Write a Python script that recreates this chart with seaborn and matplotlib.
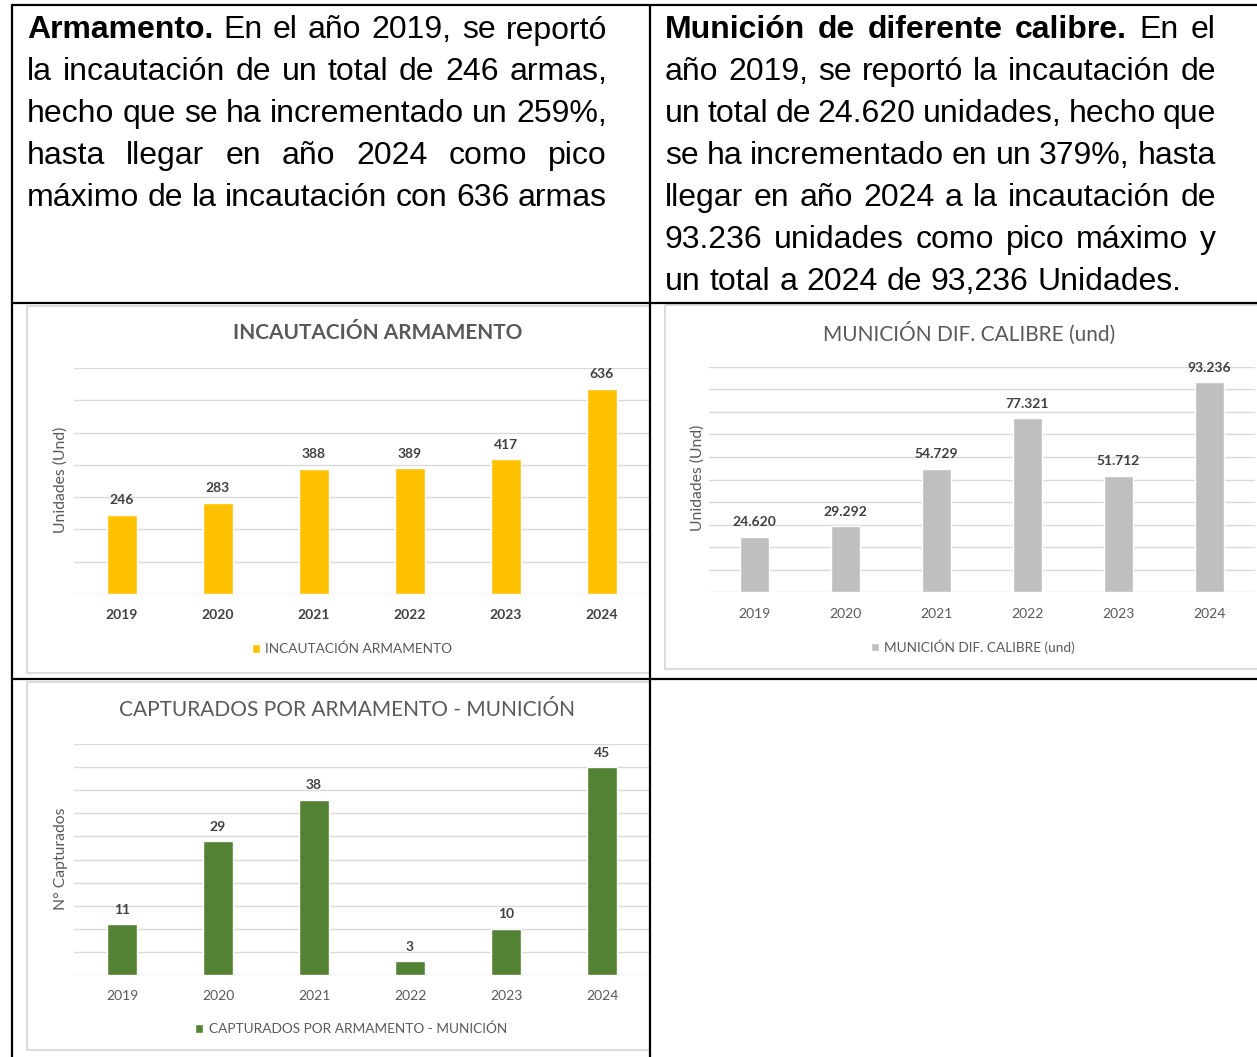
import numpy as np
import matplotlib.pyplot as plt
import seaborn as sns
from matplotlib.transforms import Affine2D
from matplotlib.lines import Line2D
from matplotlib.patches import Rectangle, Patch

years = ['2019', '2020', '2021', '2022', '2023', '2024']
armamento = [246, 283, 388, 389, 417, 636]
municion = [24620, 29292, 54729, 77321, 51712, 93236]
capturados = [11, 29, 38, 3, 10, 45]

armamento_labels = ['246', '283', '388', '389', '417', '636']
municion_labels = ['24.620', '29.292', '54.729', '77.321', '51.712', '93.236']
capturados_labels = ['11', '29', '38', '3', '10', '45']

# texto de la tabla (negrita, resto) por linea
left_lines = [
    ('Armamento.', 'En el año 2019, se reportó'),
    ('', 'la incautación de un total de 246 armas,'),
    ('', 'hecho que se ha incrementado un 259%,'),
    ('', 'hasta llegar en año 2024 como pico'),
    ('', 'máximo de la incautación con 636 armas'),
]
right_lines = [
    ('Munición de diferente calibre.', 'En el'),
    ('', 'año 2019, se reportó la incautación de'),
    ('', 'un total de 24.620 unidades, hecho que'),
    ('', 'se ha incrementado en un 379%, hasta'),
    ('', 'llegar en año 2024 a la incautación de'),
    ('', '93.236 unidades como pico máximo y'),
    ('', 'un total a 2024 de 93,236 Unidades.'),
]

W, H = 1257, 1057
sns.set_style('white')
plt.rcParams['font.family'] = ['Lato', 'DejaVu Sans']

fig = plt.figure(figsize=(W / 100, H / 100), dpi=100)
pix = Affine2D().scale(1 / W, -1 / H).translate(0, 1) + fig.transFigure
renderer = fig.canvas.get_renderer()


def px_axes(l, t, r, b):
    return fig.add_axes([l / W, 1 - b / H, (r - l) / W, (b - t) / H])


def justify(lines, x0, x1, y0, justify_last, size=23):
    normal_gap = 0.278 * size * 100 / 72
    for i, (bold, rest) in enumerate(lines):
        y = y0 + i * 41.9
        items = [(w, 'bold') for w in bold.split()] + [(w, 'normal') for w in rest.split()]
        texts = [fig.text(0, 0, w, fontsize=size, fontweight=fw, family='Liberation Sans',
                          color='black', va='baseline', ha='left', transform=pix)
                 for w, fw in items]
        widths = [t.get_window_extent(renderer).width for t in texts]
        last = i == len(lines) - 1
        if last and not justify_last:
            gap = normal_gap
        else:
            gap = max((x1 - x0 - sum(widths)) / (len(texts) - 1), 4)
        x = x0
        for t, w in zip(texts, widths):
            t.set_position((x, y))
            x += w + gap


justify(left_lines, 27, 607, 38.5, True)
justify(right_lines, 665, 1216, 38.5, False)

# lineas de la tabla
for xs, ys in [((12, 1257), (5, 5)), ((12, 12), (5, 1057)), ((650, 650), (5, 1057)),
               ((12, 1257), (303, 303)), ((12, 1257), (679, 679))]:
    fig.add_artist(Line2D(xs, ys, color='black', lw=1.6, transform=pix))

# marcos de los graficos
for l, t, r, b in [(27, 306, 650, 673), (665, 305, 1262, 669), (27, 682, 650, 1050)]:
    fig.add_artist(Rectangle((l, t), r - l, b - t, fill=False, ec='#D9D9D9', lw=1.3, transform=pix))


def chart(ax, values, labels, color, ymax, step, bold_ticks, name, leg_xy):
    sns.barplot(x=years, y=values, color=color, saturation=1, width=0.31, ax=ax)
    ax.set_ylim(0, ymax)
    ax.set_yticks(np.arange(0, ymax + step, step))
    ax.set_yticklabels([])
    ax.tick_params(axis='both', length=0)
    ax.tick_params(axis='x', pad=11, labelsize=10, labelcolor='#404040' if bold_ticks else '#595959')
    if bold_ticks:
        for lab in ax.get_xticklabels():
            lab.set_fontweight('bold')
    ax.grid(axis='y', color='#D9D9D9', lw=1)
    ax.set_axisbelow(True)
    for s in ax.spines.values():
        s.set_visible(False)
    ax.set_xlabel('')
    ax.set_ylabel('')
    ax.patch.set_alpha(0)
    ax.bar_label(ax.containers[0], labels=labels, padding=6, fontsize=10,
                 fontweight='bold', color='#404040')
    leg = ax.legend(handles=[Patch(facecolor=color)], labels=[name], loc='center',
                    bbox_to_anchor=leg_xy, bbox_transform=pix, frameon=False,
                    fontsize=9.8, handlelength=0.6, handleheight=0.6, handletextpad=0.4,
                    borderpad=0, borderaxespad=0)
    for t in leg.get_texts():
        t.set_color('#595959')


ax1 = px_axes(74, 368, 650, 594)
chart(ax1, armamento, armamento_labels, '#FFC000', 700, 100, True,
      'INCAUTACIÓN ARMAMENTO', (352, 649))
ax2 = px_axes(709, 366.7, 1255, 592.3)
chart(ax2, municion, municion_labels, '#BFBFBF', 100000, 10000, False,
      'MUNICIÓN DIF. CALIBRE (und)', (973, 646.5))
ax3 = px_axes(74, 744.3, 650, 974.7)
chart(ax3, capturados, capturados_labels, '#548235', 50, 5, False,
      'CAPTURADOS POR ARMAMENTO - MUNICIÓN', (351, 1029))

# titulos
fig.text(378, 333, 'INCAUTACIÓN ARMAMENTO', transform=pix, ha='center', va='center',
         fontsize=15, fontweight='bold', color='#595959')
fig.text(969, 333, 'MUNICIÓN DIF. CALIBRE (und)', transform=pix, ha='center', va='center',
         fontsize=15, color='#595959')
fig.text(347, 710, 'CAPTURADOS POR ARMAMENTO - MUNICIÓN', transform=pix, ha='center', va='center',
         fontsize=15, color='#595959')

# ejes y
fig.text(61, 480, 'Unidades (Und)', transform=pix, rotation=90, ha='center', va='center',
         fontsize=11.3, color='#595959')
fig.text(698, 478, 'Unidades (Und)', transform=pix, rotation=90, ha='center', va='center',
         fontsize=11.3, color='#595959')
fig.text(61, 859, 'N° Capturados', transform=pix, rotation=90, ha='center', va='center',
         fontsize=11.3, color='#595959')

fig.savefig('out.png', dpi=100)
